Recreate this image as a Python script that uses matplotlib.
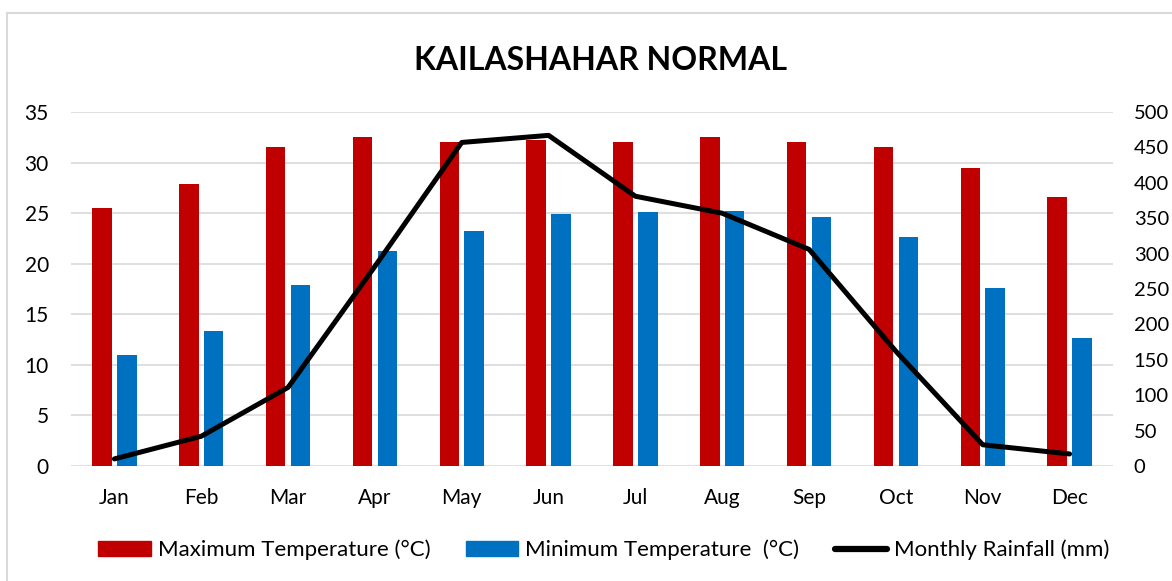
import matplotlib
matplotlib.use("Agg")
import matplotlib.pyplot as plt
import numpy as np
from matplotlib.lines import Line2D
from matplotlib.patches import Patch

months = ["Jan", "Feb", "Mar", "Apr", "May", "Jun", "Jul", "Aug", "Sep", "Oct", "Nov", "Dec"]
max_temp = [25.5, 27.9, 31.5, 32.5, 32.0, 32.2, 32.0, 32.5, 32.0, 31.5, 29.5, 26.6]
min_temp = [11.0, 13.3, 17.9, 21.3, 23.2, 24.9, 25.1, 25.2, 24.6, 22.6, 17.6, 12.7]
rainfall = [10, 42, 111, 282, 457, 467, 381, 357, 306, 162, 30, 17]

plt.rcParams['font.family'] = ['Lato', 'DejaVu Sans']

fig = plt.figure(figsize=(11.72, 5.81), dpi=100)
ax = fig.add_axes([71/1172, 1-466/581, (1113-71)/1172, (466-112)/581])
ax2 = ax.twinx()

x = np.arange(len(months))
w = 0.225
off = 0.143
red = "#C00000"
blue = "#0070C0"
ax.bar(x - off, max_temp, width=w, color=red, zorder=3)
ax.bar(x + off, min_temp, width=w, color=blue, zorder=3)
ax2.plot(x, rainfall, color="black", lw=3.6, solid_capstyle="round", zorder=4)

ax.set_xlim(-0.5, 11.5)
ax.set_ylim(0, 35)
ax.set_yticks(np.arange(0, 36, 5))
ax2.set_ylim(0, 500)
ax2.set_yticks(np.arange(0, 501, 50))
ax.set_xticks(x)
ax.set_xticklabels(months)

ax.grid(axis='y', color="#D9D9D9", lw=1.2, zorder=0)
ax.set_axisbelow(True)
for a in (ax, ax2):
    for s in a.spines.values():
        s.set_visible(False)
    a.tick_params(length=0, labelsize=15, colors="black")
ax.tick_params(axis='y', pad=16)
ax.tick_params(axis='x', pad=16)
ax2.tick_params(axis='y', pad=15, labelsize=14.5)

fig.text(600/1172, 1-60/581, "KAILASHAHAR NORMAL", ha="center", va="center",
         fontsize=23, fontweight="bold")

handles = [Patch(color=red), Patch(color=blue),
           Line2D([0], [0], color="black", lw=4.5, solid_capstyle="round")]
labels = ["Maximum Temperature (°C)", "Minimum Temperature  (°C)", "Monthly Rainfall (mm)"]
fig.legend(handles, labels, loc="center", bbox_to_anchor=(604/1172, 1-550/581),
           ncol=3, frameon=False, fontsize=16, handlelength=2.35, handleheight=0.6,
           handletextpad=0.32, columnspacing=1.6)

# chart border (top and left visible)
fig.add_artist(Line2D([7/1172, 1], [1-13/581, 1-13/581], transform=fig.transFigure,
                      color="#D9D9D9", lw=1.5))
fig.add_artist(Line2D([7/1172, 7/1172], [0, 1-13/581], transform=fig.transFigure,
                      color="#D9D9D9", lw=1.5))

fig.savefig("out.png", dpi=100)
